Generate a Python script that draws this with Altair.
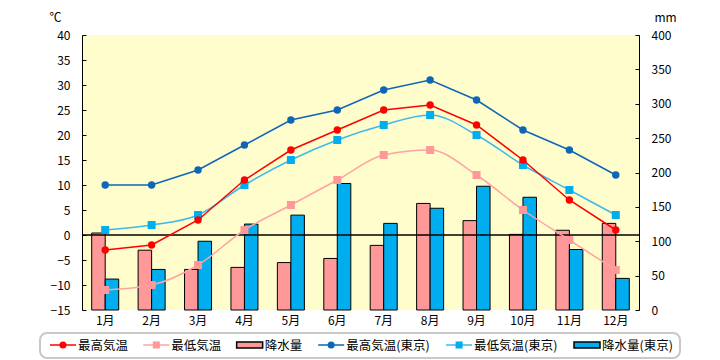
import altair as alt
import pandas as pd

# ---- data ----
months = ["1月", "2月", "3月", "4月", "5月", "6月", "7月", "8月", "9月", "10月", "11月", "12月"]
tmax = [-3, -2, 3, 11, 17, 21, 25, 26, 22, 15, 7, 1]
tmin = [-11, -10, -6, 1, 6, 11, 16, 17, 12, 5, -1, -7]
prec = [112, 87, 59, 62, 69, 75, 94, 155, 130, 110, 116, 126]
tk_tmax = [10, 10, 13, 18, 23, 25, 29, 31, 27, 21, 17, 12]
tk_tmin = [1, 2, 4, 10, 15, 19, 22, 24, 20, 14, 9, 4]
tk_prec = [45, 59, 100, 125, 138, 184, 126, 148, 180, 164, 88, 46]
series_names = ["最高気温", "最低気温", "降水量", "最高気温(東京)", "最低気温(東京)", "降水量(東京)"]
temp_ticks = list(range(-15, 41, 5))
prec_ticks = list(range(0, 401, 50))

# ---- styles ----
W, H = 557, 275
FONT = "Noto Sans CJK JP"
RED = "#FF0000"
PINK = "#FF9999"
PINK_LINE = "#FFA3A3"
DBLUE = "#0D66B8"
LBLUE = "#00AEEF"
LBLUE_LINE = "#3DB9EC"

x_scale = alt.Scale(domain=months, paddingInner=0.418, paddingOuter=0.209)
x_enc = alt.X("month:N", sort=months, scale=x_scale,
              axis=alt.Axis(title=None, labelAngle=0, domain=False, ticks=False, grid=False,
                            labelPadding=5, labelFontSize=12, labelFont=FONT, labelColor="black"))

y_temp = alt.Y("value:Q", scale=alt.Scale(domain=[-15, 40], nice=False, zero=False),
               axis=alt.Axis(orient="left", values=temp_ticks, title="℃", titleAngle=0,
                             titleX=-27, titleY=-18, titleAlign="center", titleBaseline="middle",
                             titleFontSize=12, titleFontWeight="normal", titleFont=FONT,
                             labelFont=FONT, labelFontSize=12, labelColor="black",
                             ticks=False, labelPadding=12, domain=True, domainColor="black",
                             domainWidth=1, grid=True, gridDash=[4, 2000], gridColor="black",
                             gridOpacity=1, gridWidth=1))

y_prec = alt.Y("value:Q", scale=alt.Scale(domain=[0, 400], nice=False, zero=True),
               axis=alt.Axis(orient="right", values=prec_ticks, title="mm", titleAngle=0,
                             titleX=26, titleY=-18, titleAlign="center", titleBaseline="middle",
                             titleFontSize=12, titleFontWeight="normal", titleFont=FONT,
                             labelFont=FONT, labelFontSize=12, labelColor="black",
                             ticks=False, labelPadding=12, domain=True, domainColor="black",
                             domainWidth=1, grid=True, gridDash=[4, 2000], gridColor="black",
                             gridOpacity=1, gridWidth=1))

# ---- bars ----
bar_df = pd.DataFrame({
    "month": months * 2,
    "series": [series_names[2]] * 12 + [series_names[5]] * 12,
    "value": prec + tk_prec,
})
bars = alt.Chart(bar_df).mark_bar(stroke="black", strokeWidth=1).encode(
    x=x_enc,
    xOffset=alt.XOffset("series:N", sort=[series_names[2], series_names[5]],
                        scale=alt.Scale(paddingInner=0, paddingOuter=0)),
    y=y_prec,
    color=alt.Color("series:N", scale=alt.Scale(domain=[series_names[2], series_names[5]],
                                                range=[PINK, LBLUE]), legend=None),
)

# ---- temperature lines ----
def temp_layers(values, line_color, marker_color, shape, interp, msize):
    df = pd.DataFrame({"month": months, "value": values})
    line = alt.Chart(df).mark_line(color=line_color, strokeWidth=1.5, interpolate=interp).encode(
        x=x_enc, y=y_temp)
    pts = alt.Chart(df).mark_point(filled=True, shape=shape, size=msize, color=marker_color,
                                   opacity=1).encode(x=x_enc, y=y_temp)
    return [line, pts]

zero_rule = alt.Chart(pd.DataFrame({"value": [0]})).mark_rule(color="black", strokeWidth=1.5).encode(
    y=y_temp)

temp_group = alt.layer(
    zero_rule,
    *temp_layers(tmin, PINK_LINE, PINK, "square", "monotone", 64),
    *temp_layers(tk_tmin, LBLUE_LINE, LBLUE, "square", "monotone", 64),
    *temp_layers(tk_tmax, DBLUE, DBLUE, "circle", "linear", 55),
    *temp_layers(tmax, RED, RED, "circle", "linear", 55),
)

main = alt.layer(bars, temp_group).resolve_scale(y="independent")

# ---- custom legend (layout computed from label lengths) ----
kinds = ["line", "line", "rect", "line", "line", "rect"]
sym_colors = [RED, PINK, PINK, DBLUE, LBLUE, LBLUE]
line_colors = [RED, PINK_LINE, PINK, DBLUE, LBLUE_LINE, LBLUE]
shapes = ["circle", "square", "", "circle", "square", ""]

def text_width(s):
    return sum(5.5 if ord(c) < 128 else 11.8 for c in s)

SYM_W = 26
box_left, box_right = -42, 598
start, end = box_left + 10, box_right - 8
widths = [SYM_W + 2 + text_width(s) for s in series_names]
gap = (end - start - sum(widths)) / (len(widths) - 1)
rows = []
pos = start
for name, k, sc, lc, sh, w in zip(series_names, kinds, sym_colors, line_colors, shapes, widths):
    rows.append({"label": name, "kind": k, "color": sc, "lcolor": lc, "shape": sh,
                 "x0": pos, "x1": pos + SYM_W, "xm": pos + SYM_W / 2, "tx": pos + SYM_W + 2})
    pos += w + gap
leg_df = pd.DataFrame(rows)
LY = 310

leg_box = alt.Chart(pd.DataFrame({"a": [0]})).mark_rect(
    fill="white", fillOpacity=0, stroke="#C8C8C8", strokeWidth=2, cornerRadius=7).encode(
    x=alt.value(box_left), x2=alt.value(box_right), y=alt.value(298), y2=alt.value(323))

leg_lines = alt.Chart(leg_df).transform_filter("datum.kind == 'line'").mark_rule(strokeWidth=1.5).encode(
    x=alt.X("x0:Q", scale=None), x2="x1:Q", y=alt.value(LY),
    color=alt.Color("lcolor:N", scale=None))
leg_marks = alt.Chart(leg_df).transform_filter("datum.kind == 'line'").mark_point(
    filled=True, opacity=1, size=50).encode(
    x=alt.X("xm:Q", scale=None), y=alt.value(LY),
    shape=alt.Shape("shape:N", scale=None), color=alt.Color("color:N", scale=None))
leg_rects = alt.Chart(leg_df).transform_filter("datum.kind == 'rect'").mark_rect(
    stroke="black", strokeWidth=1.5).encode(
    x=alt.X("x0:Q", scale=None), x2="x1:Q", y=alt.value(LY - 3), y2=alt.value(LY + 3),
    fill=alt.Fill("color:N", scale=None))
leg_text = alt.Chart(leg_df).mark_text(align="left", baseline="middle", fontSize=12.5,
                                       font=FONT, color="black").encode(
    x=alt.X("tx:Q", scale=None), y=alt.value(LY + 1), text="label:N")

legend = alt.layer(leg_box, leg_lines, leg_marks, leg_rects, leg_text)

chart = alt.layer(main, legend).resolve_scale(x="independent").properties(
    width=W, height=H,
    padding={"left": 74, "top": 27, "right": 73, "bottom": 50},
    autosize=alt.AutoSizeParams(type="none"),
).configure_view(fill="#FFFDCC", stroke=None).configure_axis(labelFont=FONT, titleFont=FONT)

chart.save("out.html", embed_options={"renderer": "svg", "actions": False})
